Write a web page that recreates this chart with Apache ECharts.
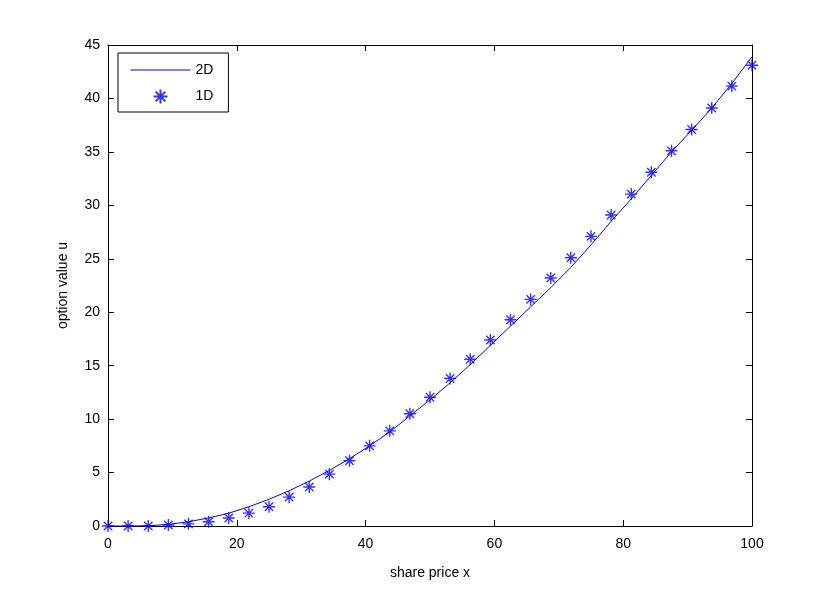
<!DOCTYPE html>
<html>
<head>
<meta charset="utf-8">
<script src="https://cdn.jsdelivr.net/npm/echarts@6/dist/echarts.min.js"></script>
<style>
  html, body { margin: 0; padding: 0; background: #fff; }
  #chart { width: 830px; height: 592px; }
</style>
</head>
<body>
<div id="chart"></div>
<script>
// x positions shared by both series (step 3.125)
var xValues = [0, 3.125, 6.25, 9.375, 12.5, 15.625, 18.75, 21.875, 25, 28.125, 31.25,
  34.375, 37.5, 40.625, 43.75, 46.875, 50, 53.125, 56.25, 59.375, 62.5, 65.625,
  68.75, 71.875, 75, 78.125, 81.25, 84.375, 87.5, 90.625, 93.75, 96.875, 100]

// 2D solution (line)
var value2D = [0, 0, 0.02, 0.15, 0.4, 0.75, 1.2, 1.8, 2.5, 3.3, 4.2,
  5.2, 6.3, 7.5, 8.8, 10.3, 11.8, 13.4, 15.1, 16.9, 18.7, 20.5,
  22.3, 24.2, 26.3, 28.5, 30.6, 32.8, 35.0, 37.0, 39.1, 41.4, 43.9]

// 1D solution (stars)
var value1D = [0, 0, 0, 0.1, 0.2, 0.4, 0.75, 1.2, 1.8, 2.7, 3.65,
  4.85, 6.1, 7.5, 8.9, 10.5, 12.05, 13.8, 15.6, 17.4, 19.3, 21.2,
  23.2, 25.1, 27.1, 29.1, 31.05, 33.1, 35.1, 37.1, 39.1, 41.15, 43.1]

var starPath = 'path://M0,-10L0,10M-10,0L10,0M-7,-7L7,7M-7,7L7,-7'

var chart = echarts.init(document.getElementById('chart'))

function pairs(xs, ys) {
  return xs.map(function (x, i) { return [x, ys[i]] })
}

var font = 'Liberation Sans, Arial, Helvetica, sans-serif'

function frameAxis(extra) {
  var base = {
    type: 'value',
    axisLine: { show: true, onZero: false, lineStyle: { color: '#000', width: 1 } },
    axisTick: { show: true, inside: true, length: 6, lineStyle: { color: '#000' } },
    axisLabel: { show: false },
    splitLine: { show: false }
  }
  return Object.assign(base, extra)
}

chart.setOption({
  animation: false,
  backgroundColor: '#fff',
  textStyle: { fontFamily: font },
  grid: { left: 108, right: 78, top: 45, bottom: 66 },
  legend: {
    left: 118,
    top: 53,
    orient: 'vertical',
    backgroundColor: '#fff',
    borderColor: '#000',
    borderWidth: 1,
    borderRadius: 0,
    padding: [10, 15, 6, 12],
    itemGap: 10,
    itemWidth: 60,
    itemHeight: 14,
    textStyle: { fontSize: 14, color: '#000', fontFamily: font },
    data: [
      { name: '2D', itemStyle: { opacity: 0 }, lineStyle: { width: 1 } },
      { name: '1D' }
    ]
  },
  xAxis: [
    frameAxis({
      min: 0, max: 100, interval: 20, position: 'bottom',
      name: 'share price x', nameLocation: 'middle', nameGap: 40,
      nameTextStyle: { fontSize: 14, color: '#000', fontFamily: font },
      axisLabel: { show: true, fontSize: 14, color: '#000', margin: 11 }
    }),
    frameAxis({ min: 0, max: 100, interval: 20, position: 'top' })
  ],
  yAxis: [
    frameAxis({
      min: 0, max: 45, interval: 5, position: 'left',
      name: 'option value u', nameLocation: 'middle', nameGap: 38,
      nameTextStyle: { fontSize: 14, color: '#000', fontFamily: font },
      axisLabel: { show: true, fontSize: 14, color: '#000', margin: 8 }
    }),
    frameAxis({ min: 0, max: 45, interval: 5, position: 'right' })
  ],
  series: [
    {
      name: '2D',
      type: 'line',
      symbol: 'none',
      lineStyle: { color: '#0000ff', width: 1 },
      itemStyle: { color: '#0000ff' },
      data: pairs(xValues, value2D)
    },
    {
      name: '1D',
      type: 'scatter',
      symbol: starPath,
      symbolSize: 12,
      itemStyle: { color: 'none', borderColor: '#0000ff', borderWidth: 1.4 },
      data: pairs(xValues, value1D)
    }
  ]
})
</script>
</body>
</html>
